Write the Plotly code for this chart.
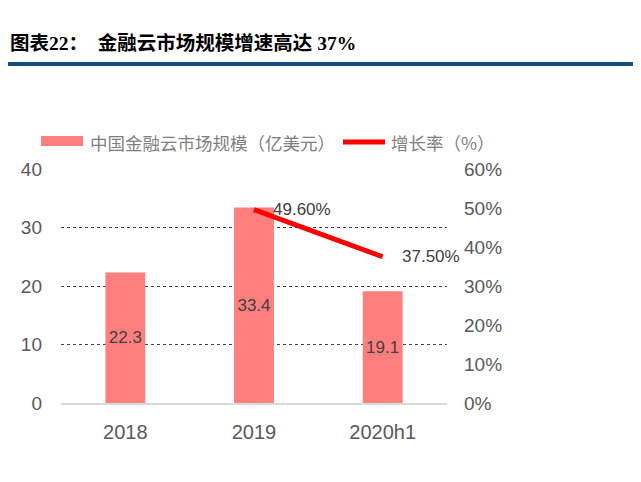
import plotly.graph_objects as go

categories = ["2018", "2019", "2020h1"]
market_size = [22.3, 33.4, 19.1]
growth_cats = ["2019", "2020h1"]
growth_rate = [49.6, 37.5]
growth_text = ["49.60%", "37.50%"]
left_ticks = [0, 10, 20, 30, 40]
right_ticks = [0, 10, 20, 30, 40, 50, 60]

bar_color = "#ff7f7f"
line_color = "#ff0000"
tick_font = dict(family="Liberation Sans, Arial", size=19, color="#595959")

# the page puts the figure 8px in from the top-left corner
OFF = 8
W, H = 641 - OFF, 482 - OFF
# plot area in screen pixels, used to place the hand-made legend
L, R, T, B = 61, 447, 169, 403


def px(x):
    return (x - L) / (R - L)


def py(y):
    return (B - y) / (B - T)


fig = go.Figure()
fig.add_trace(go.Bar(
    x=categories, y=market_size,
    marker=dict(color=bar_color, line=dict(width=0)),
    text=[str(v) for v in market_size],
    textposition="inside", insidetextanchor="middle",
    textfont=dict(family="Liberation Sans, Arial", size=17, color="#404040"),
    width=0.31, showlegend=False,
))
fig.add_trace(go.Scatter(
    x=growth_cats, y=growth_rate, yaxis="y2",
    mode="lines", line=dict(color=line_color, width=5),
    showlegend=False,
))

annotations = []
for c, v, t in zip(growth_cats, growth_rate, growth_text):
    # category axes want the serial number here ("2019" would be read as 2019)
    annotations.append(dict(xref="x", yref="y2", x=categories.index(c), y=v, text=t,
                            xanchor="left", yanchor="middle", xshift=17,
                            showarrow=False,
                            font=dict(family="Liberation Sans, Arial", size=17, color="#404040")))

# title
annotations.append(dict(xref="paper", yref="paper", x=px(8), y=py(43),
                        xanchor="left", yanchor="middle", showarrow=False,
                        text="<b>图表22：　金融云市场规模增速高达 37%</b>",
                        font=dict(family="Liberation Serif, Noto Sans CJK SC", size=19.5, color="#000000")))
# legend texts
legend_font = dict(family="Noto Sans CJK SC", size=17.5, color="#7f7f7f")
annotations.append(dict(xref="paper", yref="paper", x=px(88), y=py(142),
                        xanchor="left", yanchor="middle", showarrow=False,
                        text="中国金融云市场规模（亿美元）", font=legend_font))
annotations.append(dict(xref="paper", yref="paper", x=px(389), y=py(142),
                        xanchor="left", yanchor="middle", showarrow=False,
                        text="增长率（%）", font=legend_font))

shapes = [
    # blue rule under the title
    dict(type="line", xref="paper", yref="paper", x0=px(8), x1=px(645),
         y0=py(64), y1=py(64), line=dict(color="#0f4c81", width=4)),
    # legend symbols
    dict(type="rect", xref="paper", yref="paper", x0=px(41), x1=px(83),
         y0=py(146), y1=py(136), fillcolor=bar_color, line=dict(width=0)),
    dict(type="line", xref="paper", yref="paper", x0=px(343), x1=px(385),
         y0=py(142), y1=py(142), line=dict(color=line_color, width=5)),
]

fig.update_layout(
    width=W, height=H,
    margin=dict(l=L - OFF, r=W - (R - OFF), t=T - OFF, b=H - (B - OFF)),
    paper_bgcolor="white", plot_bgcolor="white",
    bargap=0.69,
    annotations=annotations, shapes=shapes,
    xaxis=dict(type="category", range=[-0.5, len(categories) - 0.5],
               showgrid=False, showline=True, linecolor="#d9d9d9",
               linewidth=2, ticks="", tickfont=dict(tick_font, size=20),
               ticklabelstandoff=10),
    yaxis=dict(range=[0, 40], tickvals=left_ticks, showgrid=True,
               gridcolor="#404040", griddash="dot", gridwidth=1,
               zeroline=False, ticks="", tickfont=tick_font, ticklabelstandoff=18),
    yaxis2=dict(range=[0, 60], tickvals=right_ticks,
                ticktext=[f"{v}%" for v in right_ticks],
                overlaying="y", side="right", showgrid=False, zeroline=False,
                ticks="", tickfont=tick_font, ticklabelstandoff=16),
)

fig.write_html("out.html")
